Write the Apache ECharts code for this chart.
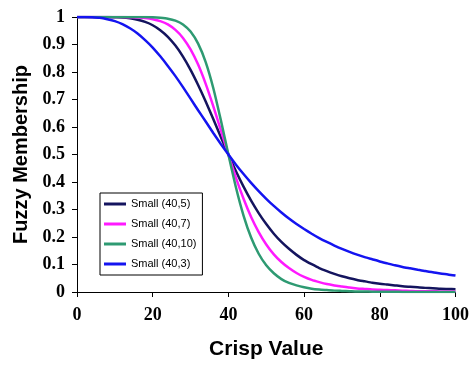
<!DOCTYPE html>
<html>
<head>
<meta charset="utf-8">
<script src="https://cdn.jsdelivr.net/npm/echarts@6/dist/echarts.min.js"></script>
<style>
  html, body { margin: 0; padding: 0; background: #fff; }
  #chart { width: 472px; height: 365px; }
</style>
</head>
<body>
<div id="chart"></div>
<script>
// crisp values 0..100, step 2
const crisp = [
  0, 2, 4, 6, 8, 10, 12, 14, 16, 18, 20, 22, 24, 26, 28, 30, 32, 34, 36, 38, 40,
  42, 44, 46, 48, 50, 52, 54, 56, 58, 60, 62, 64, 66, 68, 70, 72, 74, 76, 78, 80,
  82, 84, 86, 88, 90, 92, 94, 96, 98, 100
]

const small_40_5 = [
  1, 1, 1, 1, 1, 0.999, 0.998, 0.995, 0.990, 0.982, 0.970, 0.952, 0.928, 0.896, 0.856, 0.808, 0.753, 0.693, 0.629, 0.564, 0.5,
  0.439, 0.383, 0.332, 0.287, 0.247, 0.212, 0.182, 0.157, 0.135, 0.116, 0.101, 0.087, 0.076, 0.066, 0.057, 0.050, 0.044, 0.039, 0.034, 0.030,
  0.027, 0.024, 0.021, 0.019, 0.017, 0.015, 0.014, 0.012, 0.011, 0.010
]

const small_40_7 = [
  1, 1, 1, 1, 1, 1, 1, 0.999, 0.998, 0.996, 0.992, 0.985, 0.973, 0.953, 0.924, 0.882, 0.827, 0.757, 0.676, 0.589, 0.5,
  0.415, 0.339, 0.273, 0.218, 0.173, 0.137, 0.109, 0.087, 0.069, 0.055, 0.044, 0.036, 0.029, 0.024, 0.020, 0.016, 0.013, 0.011, 0.009, 0.008,
  0.007, 0.006, 0.005, 0.004, 0.003, 0.003, 0.003, 0.002, 0.002, 0.002
]

const small_40_10 = [
  1, 1, 1, 1, 1, 1, 1, 1, 1, 1, 0.999, 0.997, 0.994, 0.987, 0.973, 0.947, 0.903, 0.836, 0.742, 0.625, 0.5,
  0.380, 0.278, 0.198, 0.139, 0.097, 0.068, 0.047, 0.033, 0.024, 0.017, 0.012, 0.009, 0.007, 0.005, 0.004, 0.003, 0.002, 0.002, 0.001, 0.001,
  0.001, 0.001, 0, 0, 0, 0, 0, 0, 0, 0
]

const small_40_3 = [
  1, 1, 0.999, 0.997, 0.992, 0.985, 0.974, 0.959, 0.940, 0.916, 0.889, 0.857, 0.822, 0.785, 0.745, 0.703, 0.661, 0.620, 0.578, 0.538, 0.5,
  0.463, 0.429, 0.397, 0.367, 0.339, 0.313, 0.289, 0.267, 0.247, 0.229, 0.212, 0.196, 0.182, 0.169, 0.157, 0.146, 0.136, 0.127, 0.119, 0.111,
  0.104, 0.097, 0.091, 0.086, 0.081, 0.076, 0.072, 0.067, 0.064, 0.060
]

const seriesNames = ['Small (40,5)', 'Small (40,7)', 'Small (40,10)', 'Small (40,3)']
const seriesData = [small_40_5, small_40_7, small_40_10, small_40_3]
const colors = ['#14145e', '#ff19ff', '#2e9a72', '#1414f0']

const tickFont = {
  fontFamily: 'Liberation Serif',
  fontWeight: 'bold',
  fontSize: 18,
  color: '#000'
}

const titleFont = { fontFamily: 'Liberation Sans', fontWeight: 'bold', fontSize: 21, color: '#000' }

const chart = echarts.init(document.getElementById('chart'))

chart.setOption({
  animation: false,
  backgroundColor: '#fff',
  color: colors,
  grid: { left: 77, right: 14, top: 17, bottom: 67 },
  legend: {
    orient: 'vertical',
    left: 100,
    top: 193,
    data: seriesNames,
    icon: 'rect',
    itemWidth: 22,
    itemHeight: 3,
    itemGap: 6,
    padding: [4, 6, 4, 4],
    borderColor: '#000',
    borderWidth: 1,
    textStyle: { fontFamily: 'Liberation Sans', fontSize: 11, color: '#000', lineHeight: 14 }
  },
  xAxis: {
    type: 'value',
    min: 0,
    max: 100,
    interval: 20,
    name: 'Crisp Value',
    nameLocation: 'middle',
    nameGap: 47,
    nameTextStyle: titleFont,
    axisLine: { lineStyle: { color: '#000', width: 1 } },
    axisTick: { show: true, length: 5, lineStyle: { color: '#000' } },
    axisLabel: { ...tickFont, margin: 14 },
    splitLine: { show: false }
  },
  yAxis: {
    type: 'value',
    min: 0,
    max: 1,
    interval: 0.1,
    name: 'Fuzzy Membership',
    nameLocation: 'middle',
    nameGap: 46,
    nameTextStyle: { ...titleFont, fontSize: 20 },
    axisLine: { show: true, lineStyle: { color: '#000', width: 1 } },
    axisTick: { show: true, length: 5, lineStyle: { color: '#000' } },
    axisLabel: { ...tickFont, margin: 12 },
    splitLine: { show: false }
  },
  series: seriesNames.map((name, i) => ({
    name,
    type: 'line',
    data: crisp.map((x, j) => [x, seriesData[i][j]]),
    showSymbol: false,
    smooth: 0.2,
    lineStyle: { width: 2.5, color: colors[i] },
    z: i === 3 ? 3 : 2
  }))
})
</script>
</body>
</html>
